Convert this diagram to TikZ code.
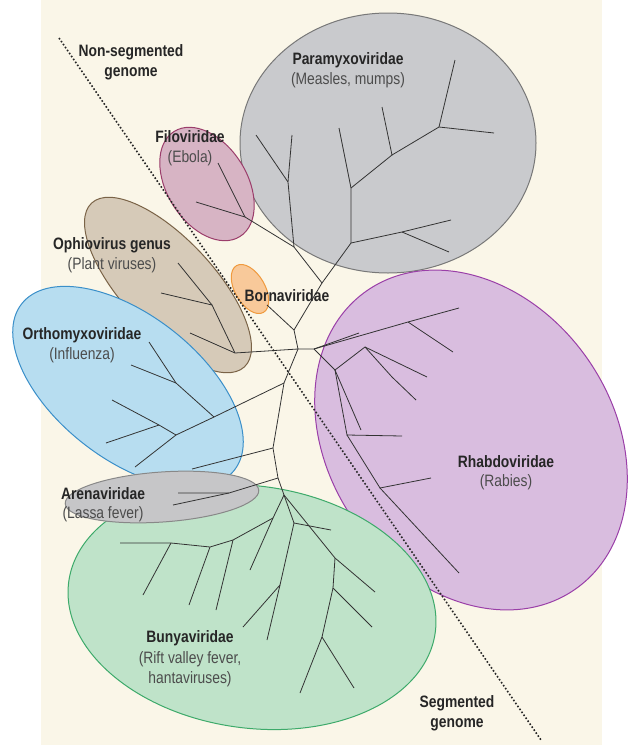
\documentclass[tikz,border=0pt]{standalone}
\usepackage{fontspec}
\setmainfont{Liberation Sans}[FakeStretch=0.84]
\begin{document}
\begin{tikzpicture}[x=1pt,y=-1pt,
 blob/.style={line width=1pt},
 br/.style={line width=0.8pt,draw=black!80},
 ttl/.style={font=\bfseries\fontsize{16.5}{20}\selectfont,text=black!85,align=center,inner sep=0},
 sub/.style={font=\fontsize{16.5}{20}\selectfont,text=black!70,align=center,inner sep=0}]
\useasboundingbox (0,0) rectangle (640,747);
\fill[white] (0,0) rectangle (640,747);
\fill[fill={rgb,255:red,250;green,246;blue,232}] (41,0) rectangle (602,745);
\definecolor{pg}{RGB}{201,202,205}\definecolor{pgs}{RGB}{120,120,120}
\definecolor{fi}{RGB}{215,180,196}\definecolor{fis}{RGB}{155,61,107}
\definecolor{op}{RGB}{214,202,184}\definecolor{ops}{RGB}{122,99,71}
\definecolor{bo}{RGB}{248,201,154}\definecolor{bos}{RGB}{240,154,62}
\definecolor{or}{RGB}{183,221,240}\definecolor{ors}{RGB}{58,143,201}
\definecolor{ar}{RGB}{198,198,200}\definecolor{ars}{RGB}{136,136,136}
\definecolor{bu}{RGB}{191,227,201}\definecolor{bus}{RGB}{61,170,106}
\definecolor{rh}{RGB}{217,189,223}\definecolor{rhs}{RGB}{154,63,168}
\filldraw[blob,fill=pg,draw=pgs] (388,143) ellipse[x radius=148,y radius=130];
\filldraw[blob,fill=rh,draw=rhs,rotate around={-55:(471,440)}] (471,440) ellipse[x radius=182,y radius=142];
\filldraw[blob,fill=fi,draw=fis,rotate around={-58:(207,184)}] (207,184) ellipse[x radius=62,y radius=40];
\filldraw[blob,fill=op,draw=ops,rotate around={-47:(168,285)}] (168,285) ellipse[x radius=112,y radius=46];
\filldraw[blob,fill=bo,draw=bos,rotate around={-60:(250,289)}] (250,289) ellipse[x radius=27,y radius=15];
\filldraw[blob,fill=bu,draw=bus,rotate around={-8:(252,607)}] (252,607) ellipse[x radius=185,y radius=121];
\filldraw[blob,fill=or,draw=ors,rotate around={-38:(128,387)}] (128,387) ellipse[x radius=135,y radius=72];
\filldraw[blob,fill=ar,draw=ars,rotate around={4:(162,497)}] (162,497) ellipse[x radius=97,y radius=25];
\draw[line width=1.6pt,dotted,black!85] (59,38) -- (541,740);
% tree
\coordinate (R) at (298,349); \coordinate (A) at (294,330); \coordinate (B) at (322,283);
\coordinate (C) at (294,247); \coordinate (D) at (245,217); \coordinate (C2) at (288,182);
\coordinate (E) at (351,243); \coordinate (F) at (402,232); \coordinate (G) at (351,188);
\coordinate (H) at (392,155); \coordinate (I) at (439,127);
\draw[br] (R)--(A)--(267,305); \draw[br] (A)--(B)--(C)--(D)--(196,202); \draw[br] (D)--(218,163);
\draw[br] (C)--(C2)--(292,135); \draw[br] (C2)--(256,135);
\draw[br] (B)--(E)--(F)--(451,220); \draw[br] (F)--(449,252);
\draw[br] (E)--(G)--(339,128); \draw[br] (G)--(H)--(382,107); \draw[br] (H)--(I)--(455,60); \draw[br] (I)--(494,133);
% rhabdo
\coordinate (J) at (314,349); \coordinate (J1) at (408,322); \coordinate (S) at (365,347);
\coordinate (S2) at (392,377); \coordinate (T) at (335,370); \coordinate (T2) at (347,435); \coordinate (T3) at (380,488);
\draw[br] (R)--(J)--(J1)--(459,308); \draw[br] (J1)--(453,352); \draw[br] (J)--(359,333);
\draw[br] (J)--(T); \draw[br] (T)--(S)--(427,377); \draw[br] (S)--(S2)--(416,400);
\draw[br] (T)--(361,430); \draw[br] (T)--(T2)--(402,436); \draw[br] (T2)--(T3)--(431,478); \draw[br] (T3)--(459,573);
% ophio
\coordinate (K) at (235,353); \coordinate (L) at (212,305);
\draw[br] (R)--(K)--(190,333); \draw[br] (K)--(L)--(161,293); \draw[br] (L)--(178,263);
% trunk
\coordinate (U) at (284,383); \coordinate (V) at (273,448); \coordinate (W) at (278,478); \coordinate (P) at (284,495);
\draw[br] (R)--(U)--(V)--(W)--(P);
% ortho
\coordinate (M) at (214,417); \coordinate (M2) at (176,383); \coordinate (N) at (176,435); \coordinate (O) at (159,425);
\draw[br] (U)--(M)--(M2)--(149,342); \draw[br] (M2)--(131,365);
\draw[br] (M)--(N)--(135,467); \draw[br] (N)--(O)--(112,400); \draw[br] (O)--(106,443);
\draw[br] (V)--(192,469);
% arena
\coordinate (X) at (229,493);
\draw[br] (W)--(X)--(178,493); \draw[br] (X)--(173,505);
% bunya
\coordinate (Q) at (273,518); \coordinate (Q2) at (233,540); \coordinate (Q3) at (210,547); \coordinate (Q4) at (171,543);
\draw[br] (P)--(Q)--(Q2)--(Q3)--(Q4)--(120,543); \draw[br] (Q4)--(143,595); \draw[br] (Q3)--(189,605);
\draw[br] (Q2)--(216,610); \draw[br] (Q)--(250,570);
\coordinate (Rb) at (294,523); \coordinate (Rc) at (280,585); \coordinate (Y) at (335,558); \coordinate (Y2) at (333,588); \coordinate (Y3) at (322,637);
\draw[br] (P)--(Rb)--(331,530); \draw[br] (Rb)--(Rc)--(267,640); \draw[br] (Rc)--(243,627);
\draw[br] (P)--(Y)--(375,592); \draw[br] (Y)--(Y2)--(372,627); \draw[br] (Y2)--(Y3)--(300,693); \draw[br] (Y3)--(354,688);
% labels
\node[ttl] (ns) at (131,62) {Non-segmented\\genome};
\node[ttl] (pa) at (348,60) {Paramyxoviridae}; \node[sub] (pas) at (348,80) {(Measles, mumps)};
\node[ttl] (fl) at (190,137) {Filoviridae}; \node[sub] (fls) at (190,158) {(Ebola)};
\node[ttl] (oph) at (112,245) {Ophiovirus genus}; \node[sub] (ophs) at (112,265) {(Plant viruses)};
\node[ttl] (bor) at (287,296) {Bornaviridae};
\node[ttl] (ort) at (82,335) {Orthomyxoviridae}; \node[sub] (orts) at (82,355) {(Influenza)};
\node[ttl] (rha) at (506,462) {Rhabdoviridae}; \node[sub] (rhas) at (506,482) {(Rabies)};
\node[ttl] (are) at (103,494) {Arenaviridae}; \node[sub] (ares) at (103,514) {(Lassa fever)};
\node[ttl] (bun) at (190,638) {Bunyaviridae}; \node[sub] (buns) at (190,669) {(Rift valley fever,\\hantaviruses)};
\node[ttl] (seg) at (457,713) {Segmented\\genome};
\end{tikzpicture}
\end{document}
